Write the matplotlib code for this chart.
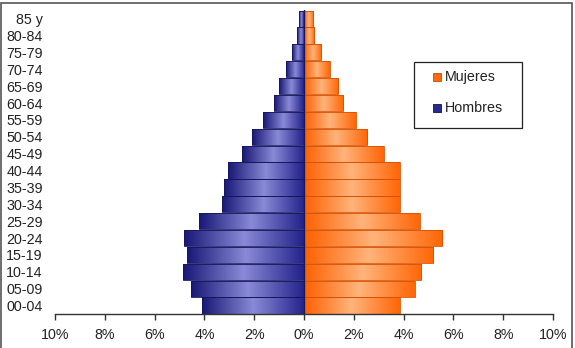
import numpy as np
import matplotlib
matplotlib.use("Agg")
import matplotlib.pyplot as plt
from matplotlib.colors import LinearSegmentedColormap
from matplotlib.patches import Rectangle

plt.rcParams['font.family'] = ['Liberation Sans', 'DejaVu Sans']

# Age groups, bottom to top
ages = ['00-04', '05-09', '10-14', '15-19', '20-24', '25-29', '30-34', '35-39',
        '40-44', '45-49', '50-54', '55-59', '60-64', '65-69', '70-74', '75-79',
        '80-84', '85 y']
# Percent of population
hombres = [4.1, 4.55, 4.85, 4.7, 4.8, 4.2, 3.3, 3.2, 3.05, 2.5, 2.07, 1.63,
           1.2, 1.0, 0.73, 0.48, 0.3, 0.2]
mujeres = [3.85, 4.45, 4.7, 5.2, 5.55, 4.65, 3.85, 3.85, 3.85, 3.2, 2.55, 2.08,
           1.57, 1.37, 1.04, 0.7, 0.41, 0.37]
xticks = [-10, -8, -6, -4, -2, 0, 2, 4, 6, 8, 10]
legend_labels = ['Mujeres', 'Hombres']

C_BLUE = '#2a2a8e'
C_ORANGE = '#ff6a10'
cm_blue = LinearSegmentedColormap.from_list('b', ['#22228a', '#8a8ad8', '#181876'])
cm_orange = LinearSegmentedColormap.from_list('o', ['#ff6000', '#ffb47c', '#ff6606'])

W, H = 575, 348
fig = plt.figure(figsize=(W / 100, H / 100), dpi=100)
ax = fig.add_axes([0.0957, 0.0977, 0.866, 0.873])

y = np.arange(len(ages))
grad = np.linspace(0, 1, 128).reshape(1, -1)


def gradient_bars(values, sign, cmap, edge):
    bars = ax.barh(y, [sign * v for v in values], height=0.96, color='none',
                   edgecolor=edge, linewidth=0.6, zorder=3)
    for b in bars:
        x0, y0 = b.get_x(), b.get_y()
        w, h = b.get_width(), b.get_height()
        # gradient runs from the centre line outwards
        img = grad if w >= 0 else grad[:, ::-1]
        im = ax.imshow(img, cmap=cmap, aspect='auto', zorder=2,
                       extent=(min(x0, x0 + w), max(x0, x0 + w), y0, y0 + h),
                       interpolation='bilinear')
        im.set_clip_path(b)
    return bars


gradient_bars(hombres, -1, cm_blue, '#15155e')
gradient_bars(mujeres, 1, cm_orange, '#d85000')

ax.axvline(0, color='#1a1a5a', lw=1.0, zorder=4)

ax.set_xlim(-10, 10)
ax.set_ylim(-0.5, len(ages) - 0.5)
ax.set_xticks(xticks)
ax.set_xticklabels([f'{abs(t)}%' for t in xticks], fontsize=10.3, color='#222222')
ax.set_yticks(y)
ax.set_yticklabels(ages, fontsize=10.3, color='#222222')
ax.tick_params(axis='y', length=0, pad=9)
ax.tick_params(axis='x', length=4, width=1, color='#333333', pad=6)
for s in ['top', 'right', 'left']:
    ax.spines[s].set_visible(False)
ax.spines['bottom'].set_color('#333333')
ax.spines['bottom'].set_linewidth(1)

# legend drawn by hand (wide box, small square keys)
fig.patches.append(Rectangle((414 / W, 1 - 128 / H), 108 / W, 66 / H,
                             transform=fig.transFigure, facecolor='white',
                             edgecolor='#222222', lw=0.9, zorder=10))
key_colors = [(C_ORANGE, '#c05000'), (C_BLUE, '#101050')]
for i, (lab, (fc, ec)) in enumerate(zip(legend_labels, key_colors)):
    yc = 1 - (77 + 31 * i) / H
    fig.patches.append(Rectangle((433 / W, yc - 4 / H), 8 / W, 8 / H,
                                 transform=fig.transFigure, facecolor=fc,
                                 edgecolor=ec, lw=0.6, zorder=11))
    fig.text(445 / W, yc, lab, fontsize=10.3, color='#222222', va='center',
             ha='left', zorder=12)

# outer chart border
fig.patches.append(Rectangle((0.0026, -0.02), 0.992, 1.011, transform=fig.transFigure,
                             fill=False, edgecolor='#555555', lw=1.2))

fig.savefig('out.png', dpi=100)
